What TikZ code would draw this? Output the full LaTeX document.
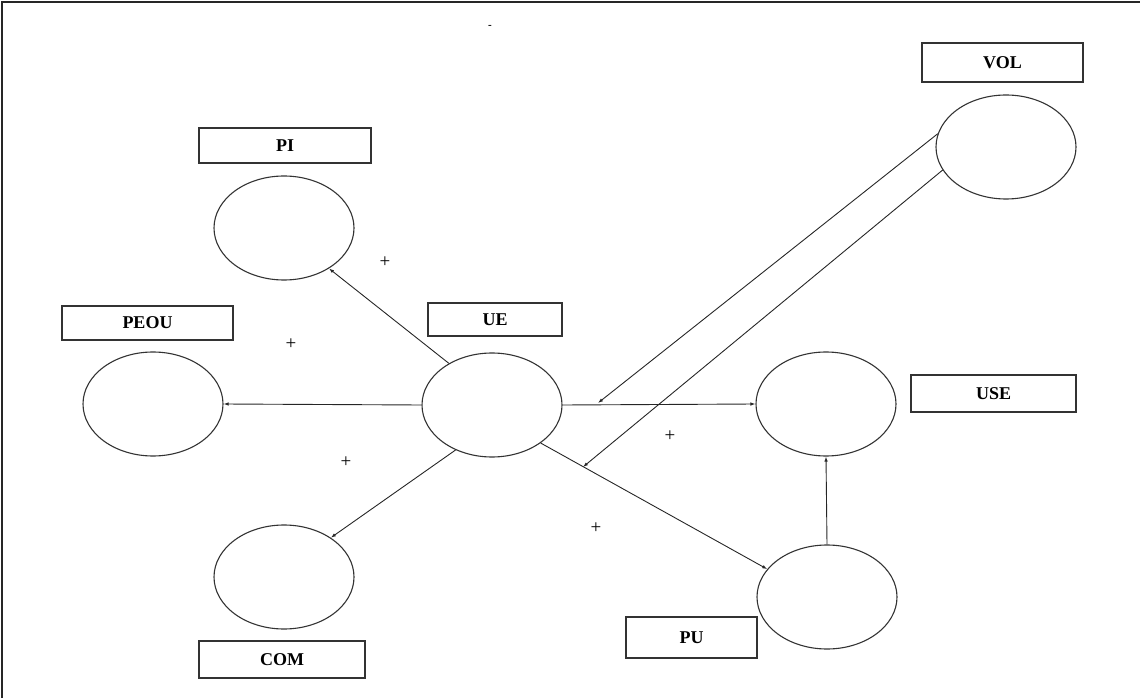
\documentclass[tikz,border=0pt]{standalone}
\usepackage{fontspec}
\setmainfont{Liberation Serif}
\usetikzlibrary{arrows.meta,shapes.geometric}
\begin{document}
\begin{tikzpicture}[x=1pt,y=-1pt,
  construct/.style={draw=black!80,line width=1.1pt,ellipse,inner sep=0pt,
    minimum width=140pt,minimum height=104pt},
  namebox/.style={draw=black!80,line width=1.5pt,rectangle,inner sep=0pt,
    font=\fontsize{18}{20}\selectfont\bfseries},
  link/.style={draw=black!85,line width=0.9pt,-{Latex[length=5pt,width=3.5pt]}},
  sign/.style={font=\fontsize{19}{21}\selectfont,inner sep=0pt}]
\useasboundingbox (0,0) rectangle (1140,700);
% frame along the left and top edges
\draw[line width=1.6pt,black!85] (2,698) -- (2,2) -- (1140,2);
\node[font=\fontsize{11}{12}\selectfont\bfseries,inner sep=0pt] (dash) at (490,27) {-};

% constructs
\node[construct] (pi)   at (284,228) {};
\node[construct] (peou) at (153,404) {};
\node[construct] (ue)   at (492,405) {};
\node[construct] (com)  at (284,577) {};
\node[construct] (vol)  at (1006,147) {};
\node[construct] (use)  at (826,404) {};
\node[construct] (pu)   at (827,597) {};

% construct names
\node[namebox,minimum width=172pt,minimum height=35pt] (piL)   at (285,145.5) {PI};
\node[namebox,minimum width=171pt,minimum height=34pt] (peouL) at (147.5,323) {PEOU};
\node[namebox,minimum width=134pt,minimum height=33pt] (ueL)   at (495,319.5) {UE};
\node[namebox,minimum width=166pt,minimum height=37pt] (comL)  at (282,659.5) {COM};
\node[namebox,minimum width=161pt,minimum height=39pt] (volL)  at (1002.5,62.5) {VOL};
\node[namebox,minimum width=165pt,minimum height=37pt] (useL)  at (993.5,393.5) {USE};
\node[namebox,minimum width=131pt,minimum height=41pt] (puL)   at (691.5,637.5) {PU};

% paths
\draw[link] (ue.136) -- (pi.-42);
\draw[link] (ue.west) -- (peou.east);
\draw[link] (ue.231) -- (com.40);
\draw[link] (ue.east) -- (use.west);
\draw[link] (ue.-38) -- (pu.155);
\draw[link] (pu.north) -- (use.south);

% moderating paths from VOL onto the UE links
\coordinate (m1) at (598,403);
\coordinate (m2) at (583,467);
\draw[link] (vol.169) -- (m1);
\draw[link] (vol.200) -- (m2);

% signs
\node[sign] (s1) at (385,262) {+};
\node[sign] (s2) at (291,344) {+};
\node[sign] (s3) at (346,462) {+};
\node[sign] (s4) at (670,436) {+};
\node[sign] (s5) at (596,528) {+};
\end{tikzpicture}
\end{document}
